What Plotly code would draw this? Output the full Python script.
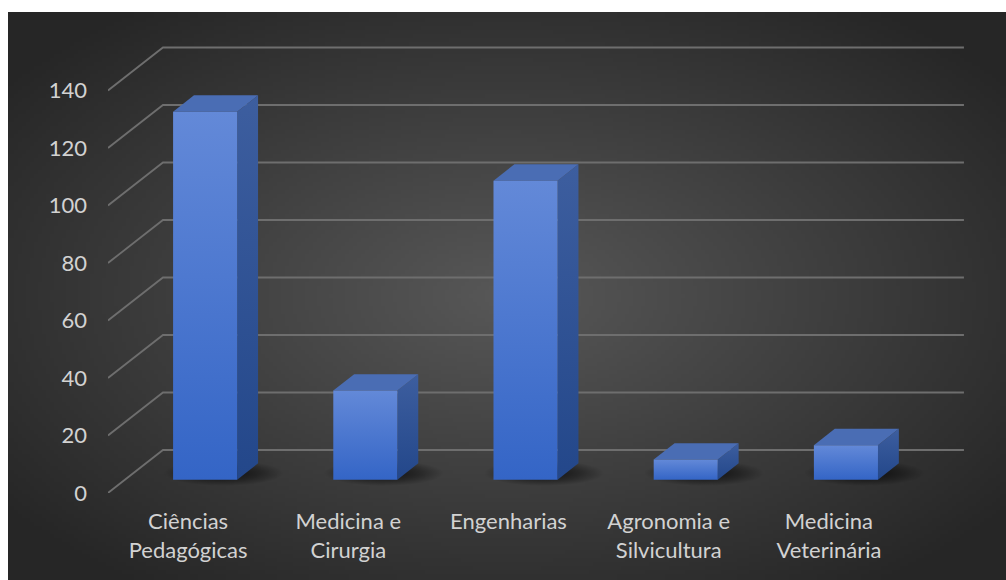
import base64
import struct
import zlib

import numpy as np
import plotly.graph_objects as go

# ---- data -------------------------------------------------------------
categories = [
    "Ciências<br>Pedagógicas",
    "Medicina e<br>Cirurgia",
    "Engenharias",
    "Agronomia e<br>Silvicultura",
    "Medicina<br>Veterinária",
]
values = [128, 31, 104, 7, 12]
y_ticks = [0, 20, 40, 60, 80, 100, 120, 140]

# ---- oblique 3-D projection settings (axis units) ---------------------
DEPTH_X = 0.343      # horizontal shift of the back wall
DEPTH_Y = 14.96      # vertical shift of the back wall
BAR_FRONT = 0.31     # depth fraction where a column's front face sits
BAR_DEPTH = 0.38     # column depth as a fraction of the floor depth
BAR_HALF = 0.20      # half width of a column front face

FRONT_TOP = "#6389d8"
FRONT_BOTTOM = "#3465c6"
SIDE_TOP = "#3d5e9f"
SIDE_BOTTOM = "#23478a"
TOP_FACE = "#4a6db4"
GRID = "#6e6e6e"
TEXT = "#d2d2d2"
FONT = "Lato"


def gradient_png(w=250, h=142):
    """Radial grey gradient used as the chart-area fill."""
    yy, xx = np.mgrid[0:h, 0:w]
    u = (xx + 0.5) / w * 2 - 1
    v = (yy + 0.5) / h * 2 - 1
    r = np.sqrt(u ** 2 + v ** 2) / np.sqrt(2)
    g = 88 - 50 * np.clip(r / 0.9, 0, 1)
    g = g.astype(np.uint8)
    raw = b"".join(b"\x00" + row.tobytes() for row in g)

    def chunk(tag, data):
        return (struct.pack(">I", len(data)) + tag + data
                + struct.pack(">I", zlib.crc32(tag + data) & 0xFFFFFFFF))

    png = (b"\x89PNG\r\n\x1a\n"
           + chunk(b"IHDR", struct.pack(">IIBBBBB", w, h, 8, 0, 0, 0, 0))
           + chunk(b"IDAT", zlib.compress(raw, 9))
           + chunk(b"IEND", b""))
    return "data:image/png;base64," + base64.b64encode(png).decode()


fig = go.Figure()
n = len(categories)
x_left, x_right = -0.5, n - 0.5

# gridlines: diagonal on the floor edge, then along the back wall
gx, gy = [], []
for t in y_ticks:
    gx += [x_left, x_left + DEPTH_X, x_right + DEPTH_X, None]
    gy += [t, t + DEPTH_Y, t + DEPTH_Y, None]
fig.add_trace(go.Scatter(x=gx, y=gy, mode="lines",
                         line=dict(color=GRID, width=1.8),
                         hoverinfo="skip", showlegend=False))

dx = BAR_DEPTH * DEPTH_X
dy = BAR_DEPTH * DEPTH_Y
base = BAR_FRONT * DEPTH_Y

for i, val in enumerate(values):
    cx = i + BAR_FRONT * DEPTH_X
    x0, x1 = cx - BAR_HALF, cx + BAR_HALF
    top = base + val

    # soft contact shadow
    fig.add_trace(go.Scatter(
        x=[x0 - 0.06, x1 + dx + 0.16, x1 + dx + 0.16, x0 - 0.06, x0 - 0.06],
        y=[base - 2.2, base - 2.2, base + dy + 1.0, base + dy + 1.0, base - 2.2],
        mode="lines", line=dict(width=0), fill="toself",
        fillgradient=dict(type="radial",
                          colorscale=[[0, "rgba(0,0,0,0.75)"],
                                      [0.6, "rgba(0,0,0,0.35)"],
                                      [1, "rgba(0,0,0,0)"]]),
        hoverinfo="skip", showlegend=False))

    # side face
    fig.add_trace(go.Scatter(
        x=[x1, x1 + dx, x1 + dx, x1, x1],
        y=[base, base + dy, top + dy, top, base],
        mode="lines", line=dict(width=0), fill="toself",
        fillgradient=dict(type="vertical",
                          colorscale=[[0, SIDE_BOTTOM], [1, SIDE_TOP]]),
        hoverinfo="skip", showlegend=False))

    # top face
    fig.add_trace(go.Scatter(
        x=[x0, x1, x1 + dx, x0 + dx, x0],
        y=[top, top, top + dy, top + dy, top],
        mode="lines", line=dict(width=0), fill="toself",
        fillcolor=TOP_FACE, hoverinfo="skip", showlegend=False))

    # front face
    fig.add_trace(go.Scatter(
        x=[x0, x1, x1, x0, x0],
        y=[base, base, top, top, base],
        mode="lines", line=dict(width=0), fill="toself",
        fillgradient=dict(type="vertical",
                          colorscale=[[0, FRONT_BOTTOM], [1, FRONT_TOP]]),
        hovertemplate=f"{categories[i].replace('<br>', ' ')}: {val}<extra></extra>",
        showlegend=False))

# ---- layout -----------------------------------------------------------
W, H = 1006, 580
ml, mr, mt, mb = 108, 36, 40, 87
pw, ph = W - ml - mr, H - mt - mb
px_per_x = 160.2
px_per_y = 2.875

# chart-area background rectangle (pixels) expressed in paper units
bg_l, bg_t, bg_r, bg_b = 8, 12, 1006, 580
fig.add_layout_image(dict(
    source=gradient_png(),
    xref="paper", yref="paper",
    x=(bg_l - ml) / pw, y=(H - mb - bg_t) / ph,
    sizex=(bg_r - bg_l) / pw, sizey=(bg_b - bg_t) / ph,
    xanchor="left", yanchor="top", sizing="stretch", layer="below"))

fig.update_layout(
    width=W, height=H,
    margin=dict(l=ml, r=mr, t=mt, b=mb, pad=0),
    paper_bgcolor="white",
    plot_bgcolor="rgba(0,0,0,0)",
    font=dict(family=FONT, size=22, color=TEXT),
    xaxis=dict(range=[x_left, x_left + pw / px_per_x],
               tickvals=list(range(n)), ticktext=categories,
               showgrid=False, zeroline=False, showline=False,
               ticks="", ticklabelstandoff=13, fixedrange=True),
    yaxis=dict(range=[0, ph / px_per_y],
               tickvals=y_ticks, ticktext=[str(t) for t in y_ticks],
               showgrid=False, zeroline=False, showline=False,
               ticks="", ticklabelstandoff=20, fixedrange=True),
)

fig.write_html("out.html")
